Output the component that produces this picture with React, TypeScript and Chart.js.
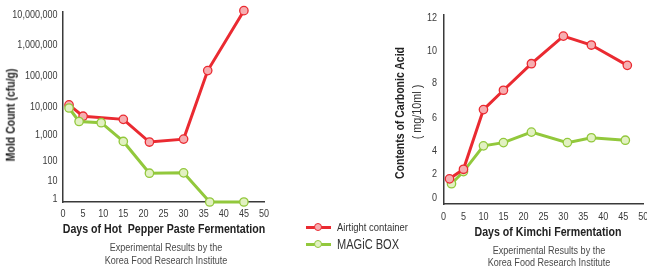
import React, { useEffect, useRef } from 'react';
import { Chart, registerables, LinearScale } from 'chart.js';

Chart.register(...registerables);

// ---------------- Data ----------------
const pepperDaysAirtight = [1.5, 5, 15, 21.5, 30, 36, 45];
const pepperMoldAirtight = [12000, 4800, 3700, 540, 700, 150000, 13000000];
const pepperDaysMagic = [1.5, 4, 9.5, 15, 21.5, 30, 36.5, 45];
const pepperMoldMagic = [9500, 3100, 2800, 570, 25, 26, 0.6, 0.6];

const kimchiDaysAirtight = [1.5, 5, 10, 15, 22, 30, 37, 46];
const kimchiAcidAirtight = [1.6, 2.4, 6.5, 7.6, 9.2, 10.9, 10.35, 9.1];
const kimchiDaysMagic = [2, 5, 10, 15, 22, 31, 37, 45.5];
const kimchiAcidMagic = [1.2, 2.2, 4.3, 4.5, 5.15, 4.5, 4.8, 4.65];

const moldTicks = [1, 10, 100, 1000, 10000, 100000, 1000000, 10000000];
const acidTicks = [0, 2, 4, 6, 8, 10, 12];

const seriesNames = ['Airtight container', 'MAGiC BOX'];

// Axis layout of the original (uneven tick spacing)
const moldAxisKnots = [0.6, 1, 10, 100, 1e3, 1e4, 1e5, 1e6, 1e7, 1.2e7];
const moldAxisFracs = [0, 0.014, 0.109, 0.216, 0.352, 0.498, 0.663, 0.826, 0.984, 1];
const acidAxisKnots = [-0.5, 0, 2, 4, 6, 8, 10, 12, 12.2];
const acidAxisFracs = [0, 0.03, 0.159, 0.282, 0.453, 0.639, 0.811, 0.983, 1];

// ---------------- Styles ----------------
const FONT = '"Liberation Sans", Arial, sans-serif';
const SQUEEZE = 0.82; // emulate the narrow typeface of the original
const RED = '#ea2a31';
const RED_FILL = '#f6aeb1';
const GREEN = '#92c83c';
const GREEN_FILL = '#e2f1c2';
const AXIS = '#3a3a3a';
const TICK = '#3a3a3a';

function interp(xs: number[], ys: number[], x: number) {
  let i = 1;
  while (i < xs.length - 1 && x > xs[i]) i++;
  const x0 = xs[i - 1];
  const x1 = xs[i];
  return ys[i - 1] + ((x - x0) * (ys[i] - ys[i - 1])) / (x1 - x0);
}

function makeWarpScale(id: string, knots: number[], fracs: number[], log: boolean) {
  const t = (v: number) => (log ? Math.log10(v) : v);
  const tk = knots.map(t);
  class WarpScale extends LinearScale {
    static id = id;
    getPixelForValue(value: any) {
      if (value === null || value === undefined || isNaN(value)) return NaN;
      return this.getPixelForDecimal(interp(tk, fracs, t(Number(value))));
    }
    getValueForPixel(pixel: number) {
      const v = interp(fracs, tk, this.getDecimalForPixel(pixel));
      return log ? Math.pow(10, v) : v;
    }
  }
  return WarpScale;
}

Chart.register(
  makeWarpScale('warpMold', moldAxisKnots, moldAxisFracs, true) as any,
  makeWarpScale('warpAcid', acidAxisKnots, acidAxisFracs, false) as any
);

Chart.defaults.font.family = FONT;

function toPoints(xs: number[], ys: number[]) {
  return xs.map((x, i) => ({ x, y: ys[i] }));
}

function dataset(label: string, xs: number[], ys: number[], color: string, fill: string) {
  return {
    label,
    data: toPoints(xs, ys),
    borderColor: color,
    backgroundColor: fill,
    borderWidth: 3,
    pointRadius: 4.2,
    pointBorderWidth: 1.3,
    pointBackgroundColor: fill,
    pointBorderColor: color,
    tension: 0,
    clip: false as any,
  };
}

// Draws the scales' tick labels in a condensed face (the library's labels are hidden)
function narrowTicks(fmt: (v: number) => string, yGap: number, xOffset: number) {
  return {
    id: 'narrowTicks',
    afterDraw(chart: any) {
      const ctx = chart.ctx;
      const area = chart.chartArea;
      const xs = chart.scales.x;
      const ys = chart.scales.y;
      ctx.save();
      ctx.fillStyle = TICK;
      ctx.font = `11px ${FONT}`;
      ctx.textBaseline = 'middle';
      ys.ticks.forEach((t: any) => {
        const py = ys.getPixelForValue(t.value);
        ctx.save();
        ctx.translate(area.left - yGap, py);
        ctx.scale(SQUEEZE, 1);
        ctx.textAlign = 'right';
        ctx.fillText(fmt(t.value), 0, 0);
        ctx.restore();
      });
      xs.ticks.forEach((t: any) => {
        const px = xs.getPixelForValue(t.value);
        ctx.save();
        ctx.translate(px, area.bottom + xOffset);
        ctx.scale(SQUEEZE, 1);
        ctx.textAlign = 'center';
        ctx.fillText(String(t.value), 0, 0);
        ctx.restore();
      });
      ctx.restore();
    },
  };
}

function makeConfig(
  datasets: any[],
  yType: string,
  yTicks: number[],
  fmt: (v: number) => string,
  pad: { top: number; right: number },
  yWidth: number,
  xHeight: number,
  yGap: number,
  xOffset: number
): any {
  return {
    type: 'line',
    data: { datasets },
    plugins: [narrowTicks(fmt, yGap, xOffset)],
    options: {
      responsive: false,
      animation: false,
      events: [],
      layout: { padding: { top: pad.top, right: pad.right, left: 0, bottom: 0 } },
      plugins: { legend: { display: false }, tooltip: { enabled: false }, title: { display: false } },
      scales: {
        x: {
          type: 'linear',
          min: 0,
          max: 50,
          ticks: { stepSize: 5, display: false, autoSkip: false },
          grid: { display: false, drawTicks: false },
          border: { color: AXIS, width: 1.5 },
          afterFit: (s: any) => {
            s.height = xHeight;
          },
        },
        y: {
          type: yType,
          ticks: { display: false, autoSkip: false },
          grid: { display: false, drawTicks: false },
          border: { color: AXIS, width: 1.5 },
          afterBuildTicks: (s: any) => {
            s.ticks = yTicks.map((v) => ({ value: v }));
          },
          afterFit: (s: any) => {
            s.width = yWidth;
          },
        },
      },
    },
  };
}

function LineCanvas({ config, left, width }: { config: () => any; left: number; width: number }) {
  const ref = useRef<HTMLCanvasElement | null>(null);
  useEffect(() => {
    if (!ref.current) return;
    const chart = new Chart(ref.current, config());
    return () => chart.destroy();
  }, []);
  return (
    <canvas
      ref={ref}
      width={width}
      height={267}
      style={{ position: 'absolute', left, top: 0, width, height: 267 }}
    />
  );
}

function Txt({
  x,
  y,
  children,
  size,
  bold,
  color,
  rotate,
  align,
  squeeze,
}: {
  x: number;
  y: number;
  children: any;
  size: number;
  bold?: boolean;
  color?: string;
  rotate?: boolean;
  align?: 'left' | 'center';
  squeeze?: number;
}) {
  const tx = align === 'left' ? '0' : '-50%';
  const s = squeeze ?? SQUEEZE;
  return (
    <div
      style={{
        position: 'absolute',
        left: x,
        top: y,
        transform: `translate(${tx},-50%)${rotate ? ' rotate(-90deg)' : ''} scaleX(${s})`,
        transformOrigin: align === 'left' ? 'left center' : 'center center',
        whiteSpace: 'pre',
        lineHeight: 1,
        fontFamily: FONT,
        fontSize: size,
        fontWeight: bold ? 'bold' : 'normal',
        color: color || '#222',
      }}
    >
      {children}
    </div>
  );
}

function LegendMark({ x, y, color, fill }: { x: number; y: number; color: string; fill: string }) {
  return (
    <>
      <div style={{ position: 'absolute', left: x, top: y - 1.5, width: 25, height: 3, background: color }} />
      <div
        style={{
          position: 'absolute',
          left: x + 12.5 - 4.5,
          top: y - 4.5,
          width: 6.4,
          height: 6.4,
          borderRadius: '50%',
          background: fill,
          border: `1.3px solid ${color}`,
        }}
      />
    </>
  );
}

export default function App() {
  const pepperConfig = () =>
    makeConfig(
      [
        dataset(seriesNames[1], pepperDaysMagic, pepperMoldMagic, GREEN, GREEN_FILL),
        dataset(seriesNames[0], pepperDaysAirtight, pepperMoldAirtight, RED, RED_FILL),
      ],
      'warpMold',
      moldTicks,
      (v) => v.toLocaleString('en-US'),
      { top: 12, right: 16 },
      63,
      65,
      5.5,
      11.5
    );
  const kimchiConfig = () =>
    makeConfig(
      [
        dataset(seriesNames[0], kimchiDaysAirtight, kimchiAcidAirtight, RED, RED_FILL),
        dataset(seriesNames[1], kimchiDaysMagic, kimchiAcidMagic, GREEN, GREEN_FILL),
      ],
      'warpAcid',
      acidTicks,
      (v) => String(v),
      { top: 15, right: 16.7 },
      63.5,
      63,
      6.5,
      13.3
    );

  return (
    <div
      style={{
        position: 'absolute',
        left: 0,
        top: 0,
        width: 647,
        height: 267,
        overflow: 'hidden',
        background: '#fff',
      }}
    >
      <LineCanvas config={pepperConfig} left={0} width={280} />
      <LineCanvas config={kimchiConfig} left={380} width={280} />

      <Txt x={11} y={115} size={12.5} bold rotate squeeze={0.84}>
        Mold Count (cfu/g)
      </Txt>
      <Txt x={164} y={229} size={12.5} bold squeeze={0.85}>
        {'Days of Hot  Pepper Paste Fermentation'}
      </Txt>
      <Txt x={166} y={247} size={10.5} color="#4a4a4a" squeeze={0.86}>
        Experimental Results by the
      </Txt>
      <Txt x={166} y={260} size={10.5} color="#4a4a4a" squeeze={0.86}>
        Korea Food Research Institute
      </Txt>

      <LegendMark x={306} y={227} color={RED} fill={RED_FILL} />
      <Txt x={337} y={227} size={10.5} align="left" color="#333" squeeze={0.9}>
        {seriesNames[0]}
      </Txt>
      <LegendMark x={306} y={244} color={GREEN} fill={GREEN_FILL} />
      <Txt x={337} y={244} size={14} align="left" color="#333" squeeze={0.79}>
        {seriesNames[1]}
      </Txt>

      <Txt x={400} y={113} size={12.5} bold rotate squeeze={0.84}>
        Contents of Carbonic Acid
      </Txt>
      <Txt x={417} y={112} size={12} rotate color="#333" squeeze={0.9}>
        ( mg/10ml )
      </Txt>
      <Txt x={548} y={231.5} size={12.5} bold squeeze={0.85}>
        Days of Kimchi Fermentation
      </Txt>
      <Txt x={549} y={250} size={10.5} color="#4a4a4a" squeeze={0.86}>
        Experimental Results by the
      </Txt>
      <Txt x={549} y={261.5} size={10.5} color="#4a4a4a" squeeze={0.86}>
        Korea Food Research Institute
      </Txt>
    </div>
  );
}
